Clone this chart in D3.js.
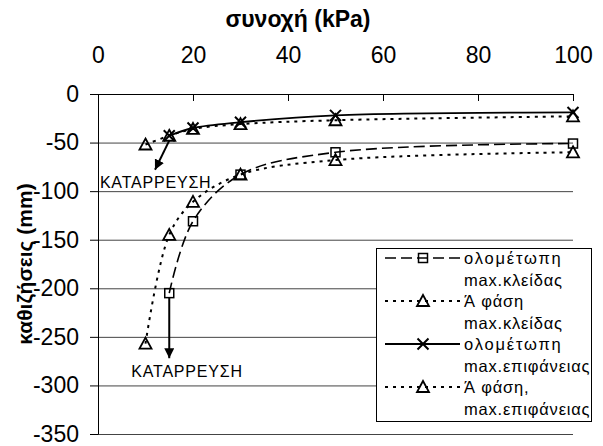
<!DOCTYPE html>
<html>
<head>
<meta charset="utf-8">
<script src="https://cdn.jsdelivr.net/npm/d3@7"></script>
<style>
  body { margin: 0; background: #fff; }
  text { font-family: "Liberation Sans", Arial, sans-serif; fill: #000; }
</style>
</head>
<body>
<svg id="chart" width="603" height="446"></svg>
<script>
// cohesion values (kPa)
const cohesion = [10, 15, 20, 30, 50, 100];

// settlements (mm), null where no value
const olometopiKleidas = [null, -205, -131, -83, -60, -51];
const faseKleidas = [-257, -145, -111, -83, -68, -60];
const olometopiEpifaneias = [null, -43, -35, -29, -22, -19];
const faseEpifaneias = [-52, -43, -36, -31, -27, -23];

const xTicks = [0, 20, 40, 60, 80, 100];
const yTicks = [0, -50, -100, -150, -200, -250, -300, -350];

const seriesNames = [
  ["ολομέτωπη", "max.κλείδας"],
  ["Ά φάση", "max.κλείδας"],
  ["ολομέτωπη", "max.επιφάνειας"],
  ["Ά φάση,", "max.επιφάνειας"]
];

const series = [
  { values: olometopiKleidas, dash: "11,5", marker: "square", width: 1.6 },
  { values: faseKleidas, dash: "3,5", marker: "triangle", width: 2 },
  { values: olometopiEpifaneias, dash: null, marker: "cross", width: 1.8 },
  { values: faseEpifaneias, dash: "3,5", marker: "triangle", width: 2 }
];

const svg = d3.select("#chart");
const plotLeft = 98, plotRight = 573, plotTop = 94, plotBottom = 434;

const x = d3.scaleLinear().domain([0, 100]).range([plotLeft, plotRight]);
const y = d3.scaleLinear().domain([0, -350]).range([plotTop, plotBottom]);

// gridlines
svg.append("g")
  .attr("transform", "translate(" + plotLeft + ",0)")
  .call(d3.axisLeft(y).tickValues(yTicks.slice(1)).tickSize(-(plotRight - plotLeft)).tickFormat(""))
  .call(g => g.select(".domain").remove())
  .call(g => g.selectAll("line").attr("stroke", "#444"));

// y axis
const yAxis = svg.append("g")
  .attr("transform", "translate(" + plotLeft + ",0)")
  .call(d3.axisLeft(y).tickValues(yTicks).tickSize(8).tickSizeOuter(0).tickPadding(11).tickFormat(d => String(d)));
yAxis.selectAll("text").style("font-size", "23px");

// x axis on top, ticks inside
const xAxis = svg.append("g")
  .attr("transform", "translate(0," + plotTop + ")")
  .call(d3.axisTop(x).tickValues(xTicks).tickSize(-7).tickSizeOuter(0).tickPadding(31));
xAxis.selectAll("text").style("font-size", "23px");

svg.selectAll(".domain").attr("stroke", "#000");

// titles
svg.append("text")
  .attr("x", 298).attr("y", 27)
  .attr("text-anchor", "middle")
  .style("font-size", "23px").style("font-weight", "bold")
  .text("συνοχή (kPa)");

svg.append("text")
  .attr("transform", "translate(32,264) rotate(-90)")
  .attr("text-anchor", "middle")
  .style("font-size", "21px").style("font-weight", "bold")
  .text("καθιζήσεις (mm)");

function drawMarker(g, type, cx, cy) {
  if (type === "square") {
    g.append("rect").attr("x", cx - 4.5).attr("y", cy - 4.5).attr("width", 9).attr("height", 9)
      .attr("fill", "none").attr("stroke", "#000").attr("stroke-width", 1.5);
  } else if (type === "triangle") {
    g.append("path")
      .attr("d", "M" + cx + "," + (cy - 6) + "L" + (cx + 6) + "," + (cy + 5) + "L" + (cx - 6) + "," + (cy + 5) + "Z")
      .attr("fill", "none").attr("stroke", "#000").attr("stroke-width", 1.8);
  } else {
    g.append("path")
      .attr("d", "M" + (cx - 5.5) + "," + (cy - 5.5) + "L" + (cx + 5.5) + "," + (cy + 5.5) +
        "M" + (cx + 5.5) + "," + (cy - 5.5) + "L" + (cx - 5.5) + "," + (cy + 5.5))
      .attr("fill", "none").attr("stroke", "#000").attr("stroke-width", 2);
  }
}

const line = d3.line()
  .x(d => x(d[0]))
  .y(d => y(d[1]))
  .curve(d3.curveCatmullRom.alpha(0.5));

series.forEach(s => {
  const pts = cohesion.map((c, i) => [c, s.values[i]]).filter(d => d[1] !== null);
  svg.append("path")
    .datum(pts)
    .attr("d", line)
    .attr("fill", "none")
    .attr("stroke", "#000")
    .attr("stroke-width", s.width)
    .attr("stroke-dasharray", s.dash);
  const mg = svg.append("g");
  pts.forEach(d => drawMarker(mg, s.marker, x(d[0]), y(d[1])));
});

// collapse annotations
const defs = svg.append("defs");
defs.append("marker")
  .attr("id", "arrow").attr("viewBox", "0 0 10 10")
  .attr("refX", 10).attr("refY", 5)
  .attr("markerWidth", 5).attr("markerHeight", 5)
  .attr("markerUnits", "strokeWidth")
  .attr("orient", "auto")
  .append("path").attr("d", "M0,0L10,5L0,10Z").attr("fill", "#000");

svg.append("line")
  .attr("x1", x(15)).attr("y1", y(-48))
  .attr("x2", x(12)).attr("y2", y(-78))
  .attr("stroke", "#000").attr("stroke-width", 2)
  .attr("marker-end", "url(#arrow)");
svg.append("text")
  .attr("x", x(0.4)).attr("y", y(-97))
  .style("font-size", "16px").style("letter-spacing", "0.8px")
  .text("ΚΑΤΑΡΡΕΥΣΗ");

svg.append("line")
  .attr("x1", x(15)).attr("y1", y(-210))
  .attr("x2", x(15)).attr("y2", y(-272))
  .attr("stroke", "#000").attr("stroke-width", 2)
  .attr("marker-end", "url(#arrow)");
svg.append("text")
  .attr("x", x(7)).attr("y", y(-291))
  .style("font-size", "16px").style("letter-spacing", "0.8px")
  .text("ΚΑΤΑΡΡΕΥΣΗ");

// legend
const lg = svg.append("g");
lg.append("rect")
  .attr("x", 376.5).attr("y", 248.5).attr("width", 215).attr("height", 173)
  .attr("fill", "#fff").attr("stroke", "#000").attr("stroke-width", 1);
series.forEach((s, i) => {
  const cy = 258 + i * 43;
  lg.append("line")
    .attr("x1", 385).attr("x2", 460).attr("y1", cy).attr("y2", cy)
    .attr("stroke", "#000").attr("stroke-width", s.width)
    .attr("stroke-dasharray", s.dash);
  drawMarker(lg, s.marker, 423, cy);
  seriesNames[i].forEach((t, j) => {
    lg.append("text")
      .attr("x", 464).attr("y", cy + 6 + j * 21.5)
      .style("font-size", "16.5px").style("letter-spacing", t.startsWith("ολ") ? "1.8px" : "0.8px")
      .text(t);
  });
});
</script>
</body>
</html>
